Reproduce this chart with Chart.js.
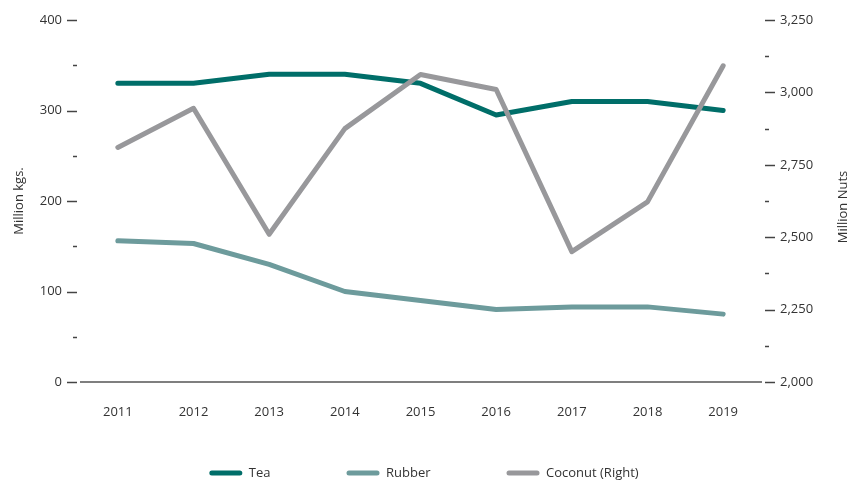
<!DOCTYPE html>
<html>
<head>
<meta charset="utf-8">
<script src="https://cdn.jsdelivr.net/npm/chart.js@4/dist/chart.umd.min.js"></script>
<style>
  html, body { margin: 0; padding: 0; background: #fff; }
  #box { width: 848px; height: 481px; }
</style>
</head>
<body>
<div id="box"><canvas id="chartBox"></canvas></div>
<script>
const years = ['2011', '2012', '2013', '2014', '2015', '2016', '2017', '2018', '2019']
const tea = [330, 330, 340, 340, 330, 295, 310, 310, 300]
const rubber = [156, 153, 130, 100, 90, 80, 83, 83, 75]
const coconut = [2810, 2945, 2510, 2875, 3062, 3010, 2450, 2622, 3092]

const textColor = '#333'
const font = { family: "'Open Sans', sans-serif", size: 13 }
const legendGap = 76

// short dashes beside each tick, the base line, the right title,
// and the legend placed lower than its wide item spacing would allow
const axisMarks = {
    id: 'axisMarks',
    beforeUpdate(chart) {
        const lg = chart.legend
        if (lg && !lg.patched) {
            const fit = lg.fit
            lg.fit = function () { fit.call(this); this.height = 59 }
            lg.patched = true
        }
    },
    afterLayout(chart) {
        const lg = chart.legend
        if (lg) {
            lg.top = 473 - 6.5 - legendGap
            lg.bottom = chart.height
        }
    },
    afterDraw(chart) {
        const ctx = chart.ctx
        const { left, right, bottom, top } = chart.chartArea
        ctx.save()
        ctx.strokeStyle = '#555'
        ctx.lineWidth = 1.5
        ctx.beginPath()
        ctx.moveTo(left, bottom)
        ctx.lineTo(right + 1, bottom)
        ctx.stroke()

        ctx.strokeStyle = '#444'
        const y = chart.scales.y
        y.ticks.forEach(t => {
            const p = Math.round(y.getPixelForValue(t.value)) + 0.5
            const major = t.value % 100 === 0
            ctx.beginPath()
            ctx.moveTo(major ? left - 13 : left - 7, p)
            ctx.lineTo(left - 3, p)
            ctx.stroke()
        })
        const y1 = chart.scales.y1
        y1.ticks.forEach(t => {
            const p = Math.round(y1.getPixelForValue(t.value)) + 0.5
            const major = t.value % 250 === 0
            ctx.beginPath()
            ctx.moveTo(right + 4, p)
            ctx.lineTo(major ? right + 14 : right + 8, p)
            ctx.stroke()
        })

        ctx.fillStyle = textColor
        ctx.font = font.size + 'px ' + font.family
        ctx.textAlign = 'center'
        ctx.textBaseline = 'middle'
        ctx.translate(843, (top + bottom) / 2 + 6)
        ctx.rotate(-Math.PI / 2)
        ctx.fillText('Million Nuts', 0, 0)
        ctx.restore()
    }
}

const context = document.querySelector('#chartBox').getContext('2d')
const chart = new Chart(context, {
    type: 'line',
    data: {
        labels: years,
        datasets: [{
            label: 'Tea',
            data: tea,
            borderColor: '#006e69',
            backgroundColor: '#006e69',
            yAxisID: 'y',
            order: 2
        }, {
            label: 'Rubber',
            data: rubber,
            borderColor: '#6d9b9c',
            backgroundColor: '#6d9b9c',
            yAxisID: 'y',
            order: 3
        }, {
            label: 'Coconut (Right)',
            data: coconut,
            borderColor: '#98989b',
            backgroundColor: '#98989b',
            yAxisID: 'y1',
            order: 1
        }]
    },
    options: {
        responsive: true,
        maintainAspectRatio: false,
        animation: false,
        elements: {
            line: { borderWidth: 5, tension: 0, borderCapStyle: 'round', borderJoinStyle: 'round' },
            point: { radius: 0, hoverRadius: 0 }
        },
        layout: { padding: { top: 20, left: 0, right: 0, bottom: 0 } },
        plugins: {
            tooltip: { enabled: false },
            legend: {
                position: 'bottom',
                labels: {
                    color: textColor,
                    font,
                    boxWidth: 33,
                    boxHeight: 5,
                    useBorderRadius: true,
                    borderRadius: 2.5,
                    padding: legendGap,
                    sort: (a, b) => a.datasetIndex - b.datasetIndex,
                    generateLabels: c => Chart.defaults.plugins.legend.labels.generateLabels(c)
                        .map(l => Object.assign(l, { lineWidth: 0 }))
                }
            }
        },
        scales: {
            x: {
                offset: true,
                grid: { display: false, drawTicks: false },
                border: { display: false },
                ticks: { color: textColor, font, padding: 22, maxRotation: 0, autoSkip: false },
                afterFit: s => { s.height = 40 }
            },
            y: {
                position: 'left',
                min: 0,
                max: 400,
                grid: { display: false, drawTicks: true, tickLength: 14 },
                border: { display: false },
                ticks: {
                    stepSize: 50,
                    color: textColor,
                    font,
                    padding: 4,
                    callback: v => v % 100 === 0 ? v : ''
                },
                title: { display: true, text: 'Million kgs.', color: textColor, font, padding: { top: 11, bottom: 0 } },
                afterFit: s => { s.width = 80 }
            },
            y1: {
                position: 'right',
                min: 2000,
                max: 3250,
                grid: { display: false, drawTicks: true, tickLength: 15 },
                border: { display: false },
                ticks: {
                    stepSize: 125,
                    color: textColor,
                    font,
                    padding: 4,
                    callback: v => v % 250 === 0 ? v.toLocaleString('en-US') : ''
                },
                afterFit: s => { s.width = 87 }
            }
        }
    },
    plugins: [axisMarks]
})
</script>
</body>
</html>
